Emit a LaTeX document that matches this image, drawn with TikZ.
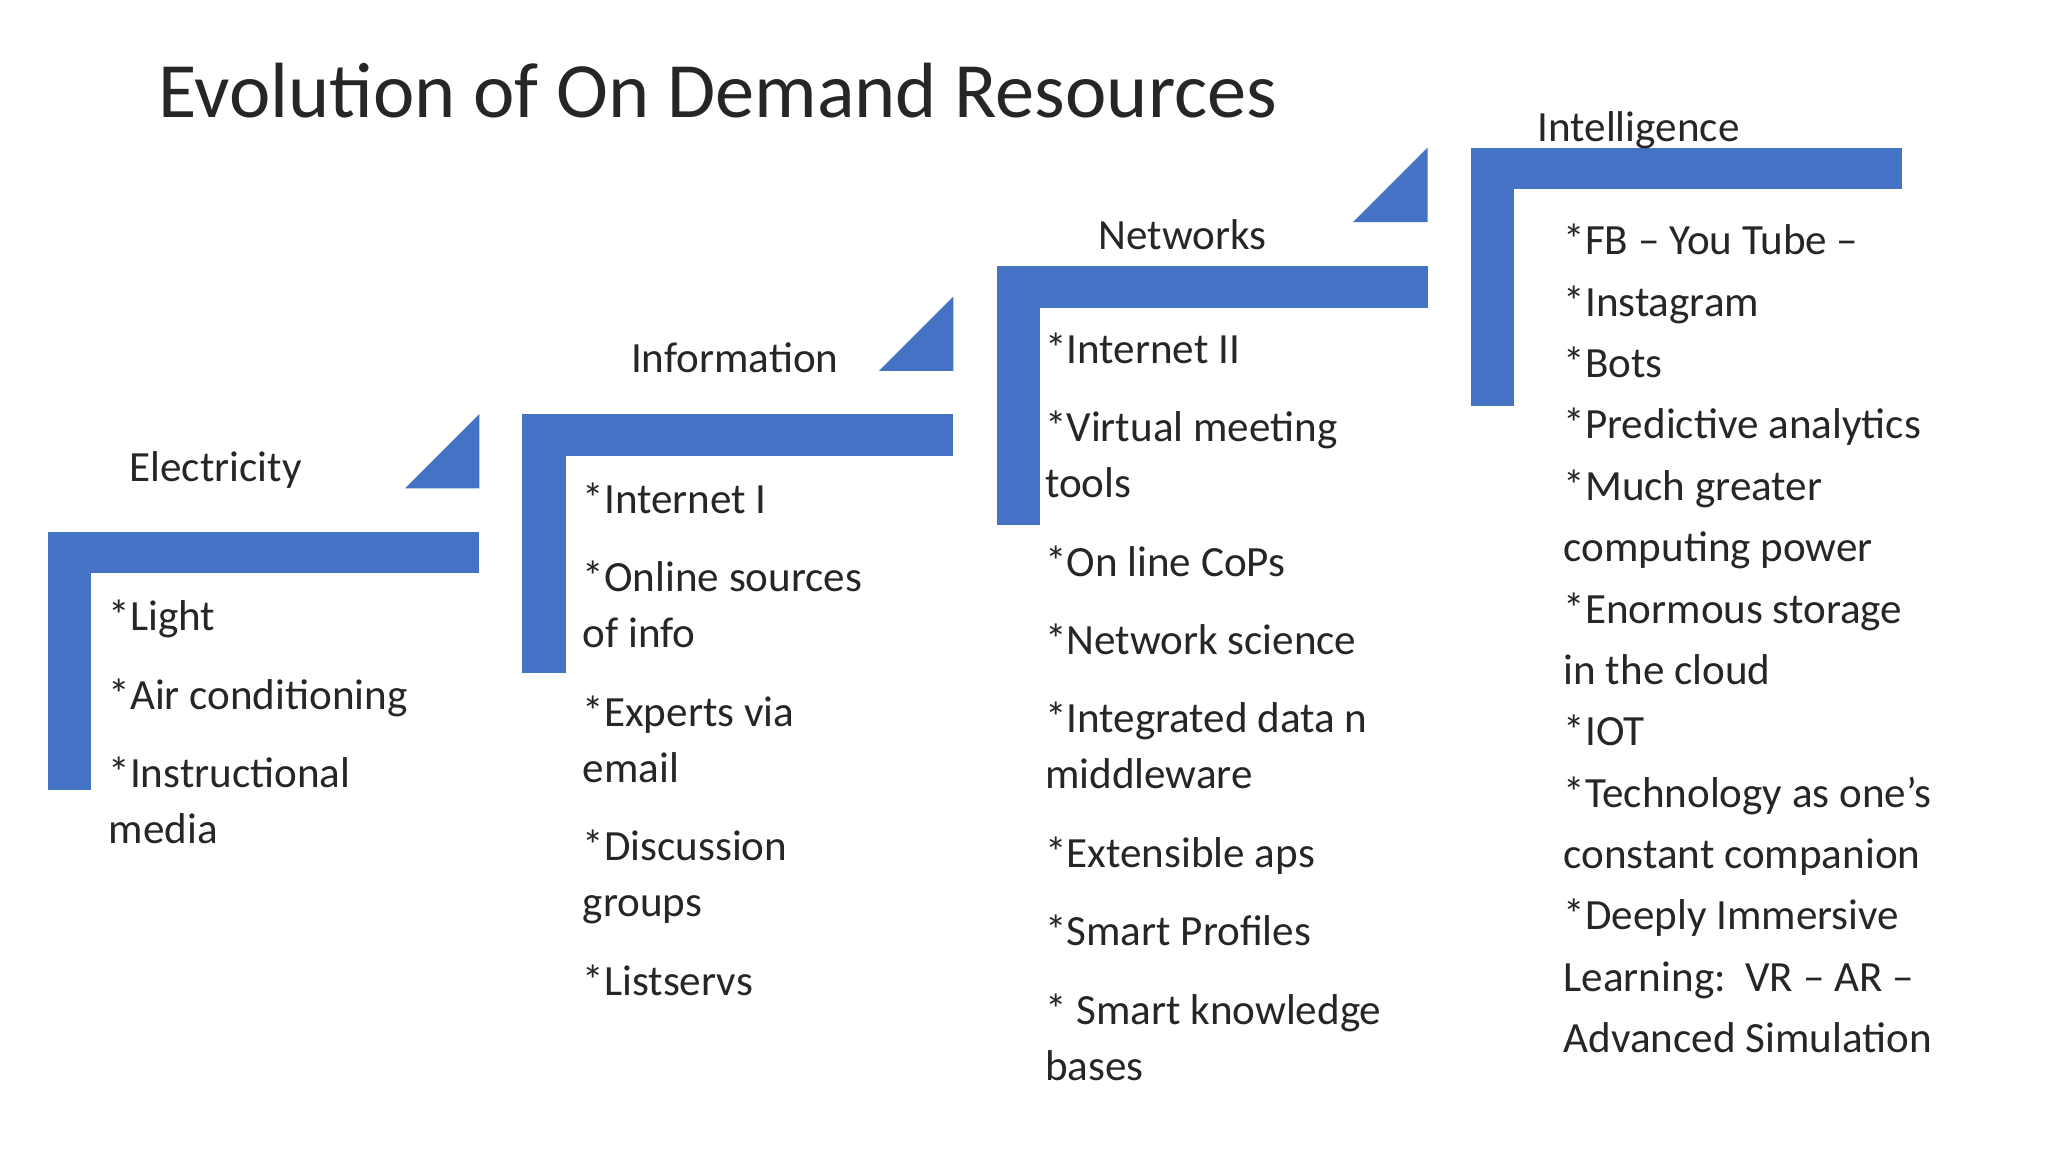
\documentclass[tikz,border=0pt]{standalone}
\usepackage{fontspec}
\setmainfont{Carlito}
\definecolor{bandblue}{HTML}{4472C4}
\tikzset{
  band/.style={fill=bandblue,draw=none},
  item/.style={anchor=base west,inner sep=0pt,font=\fontsize{33}{33}\selectfont,text=black!85},
  head/.style={anchor=base west,inner sep=0pt,font=\fontsize{33}{33}\selectfont,text=black!85}
}
\begin{document}
\begin{tikzpicture}[x=1pt,y=-1pt]
\useasboundingbox[fill=white] (0,0) rectangle (1568,882);
\node[anchor=base west,inner sep=0pt,font=\fontsize{60}{60}\selectfont,text=black!85] (title) at (121,90) {Evolution of On Demand Resources};
% stages
\foreach \x/\y [count=\i] in {37/407,400/317,763/204,1126/113}{
  \fill[band] (\x,\y) rectangle (\x+330,\y+32);
  \fill[band] (\x,\y) rectangle (\x+33,\y+198);
}
\foreach \x/\y in {367/317,730/227,1093/113}{
  \fill[band] (\x-57,\y+57) -- (\x,\y+57) -- (\x,\y) -- cycle;
}
\node[head] (h1) at (99,369) {Electricity};
\node[head] (h2) at (483,285) {Information};
\node[head] (h3) at (841,191) {Networks};
\node[head] (h4) at (1177,108) {Intelligence};
% column 1
\foreach \t/\y [count=\i] in {{*Light}/483,{*Air conditioning}/543,{*Instructional}/603,{media}/646}
  \node[item] (a\i) at (83,\y) {\t};
% column 2
\foreach \t/\y [count=\i] in {{*Internet I}/393,{*Online sources}/453,{of info}/496,{*Experts via}/556,{email}/599,{*Discussion}/659,{groups}/702,{*Listservs}/762}
  \node[item] (b\i) at (446,\y) {\t};
% column 3
\foreach \t/\y [count=\i] in {{*Internet II}/278,{*Virtual meeting}/338,{tools}/381,{*On line CoPs}/441,{*Network science}/501,{*Integrated data n}/561,{middleware}/604,{*Extensible aps}/664,{*Smart Profiles}/724,{* Smart knowledge}/784,{bases}/827}
  \node[item] (c\i) at (800,\y) {\t};
% column 4
\foreach \t/\y [count=\i] in {{*FB – You Tube –}/195,{*Instagram}/242,{*Bots}/289,{*Predictive analytics}/336,{*Much greater}/383,{computing power}/430,{*Enormous storage}/477,{in the cloud}/524,{*IOT}/571,{*Technology as one’s}/618,{constant companion}/665,{*Deeply Immersive}/712,{Learning:\ \ VR – AR –}/759,{Advanced Simulation}/806}
  \node[item] (d\i) at (1197,\y) {\t};
\end{tikzpicture}
\end{document}
